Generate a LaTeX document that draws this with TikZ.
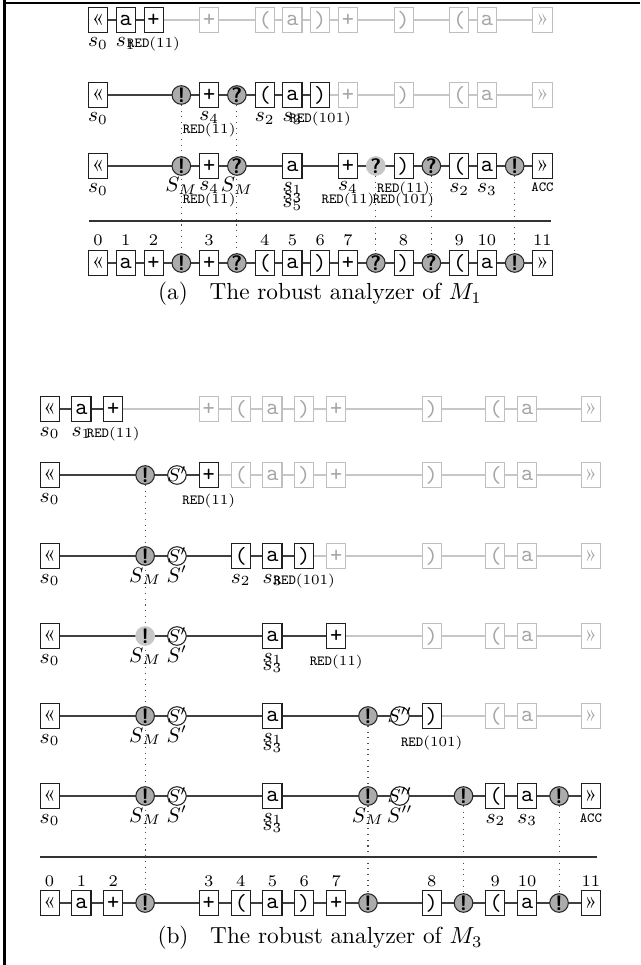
\documentclass[tikz,border=0pt]{standalone}
\usetikzlibrary{shapes.geometric,backgrounds}
\newcommand\Ta[5]{\node[#1] (#2) at ({98+27.78*#3},#4) {#5};}
\newcommand\Tb[5]{\node[#1] (#2) at ({49.6+31.84*#3},#4) {#5};}
\newcommand\La[5]{\node[#1,anchor=base] (#2) at ({98+27.78*#3},#4) {#5};}
\newcommand\Lb[5]{\node[#1,anchor=base] (#2) at ({49.6+31.84*#3},#4) {#5};}
\newcommand\Rd[1]{\texttt{RED}(#1)}
\newcommand\GL{{\rmfamily«}}
\newcommand\GR{{\rmfamily»}}
\newcommand\Cin[1]{\makebox[0pt]{\raisebox{-2.6pt}[0pt][0pt]{$#1$}}}
\begin{document}
\begin{tikzpicture}[x=0.43pt,y=-0.43pt,
  tok/.style={rectangle,draw=black!88,fill=white,line width=0.45pt,minimum width=8.2pt,minimum height=10.5pt,inner sep=0pt,font=\ttfamily},
  gtok/.style={tok,draw=black!25,text=black!35},
  err/.style={circle,draw=black!85,fill=black!33,line width=0.45pt,minimum size=8pt,inner sep=0pt,font=\sffamily\bfseries\small},
  lerr/.style={err,draw=black!22,fill=black!22},
  recv/.style={circle,draw=black!88,fill=white,line width=0.45pt,minimum size=8pt,inner sep=0pt,font=\footnotesize},
  lnk/.style={draw=black!75,line width=0.5pt},
  glnk/.style={draw=black!22,line width=0.5pt},
  dots/.style={draw=black!70,dotted,line width=0.45pt},
  sepl/.style={draw=black!80,line width=0.55pt},
  lab/.style={inner sep=0pt,font=\small},
  redl/.style={inner sep=0pt,font=\fontsize{6}{7}\selectfont},
  idx/.style={inner sep=0pt,font=\scriptsize},
  capt/.style={inner sep=0pt,font=\normalsize}]
\useasboundingbox (0,0) rectangle (640,965);
% frame
\coordinate (fTL) at (4.5,3); \coordinate (fTR) at (640,3); \coordinate (fBL) at (4.5,965); \coordinate (fT0) at (4.5,0);
\draw[line width=1.1pt] (fT0) -- (fBL);
\draw[line width=1.1pt] (fTL) -- (fTR);

% ===== panel (a) =====
% row 1
\Ta{tok}{a1n0}{0}{20}{\GL}
\Ta{tok}{a1n1}{1}{20}{a}
\Ta{tok}{a1n2}{2}{20}{+}
\Ta{gtok}{a1n4}{4}{20}{+}
\Ta{gtok}{a1n6}{6}{20}{(}
\Ta{gtok}{a1n7}{7}{20}{a}
\Ta{gtok}{a1n8}{8}{20}{)}
\Ta{gtok}{a1n9}{9}{20}{+}
\Ta{gtok}{a1n11}{11}{20}{)}
\Ta{gtok}{a1n13}{13}{20}{(}
\Ta{gtok}{a1n14}{14}{20}{a}
\Ta{gtok}{a1n16}{16}{20}{\GR}
\La{lab}{a1l0}{0}{47}{$s_0$}
\La{lab}{a1l1}{1}{47}{$s_1$}
\La{redl}{a1l2}{2}{48}{\Rd{11}}
% row 2
\Ta{tok}{a2n0}{0}{95}{\GL}
\Ta{err}{a2n3}{3}{95}{!}
\Ta{tok}{a2n4}{4}{95}{+}
\Ta{err}{a2n5}{5}{95}{?}
\Ta{tok}{a2n6}{6}{95}{(}
\Ta{tok}{a2n7}{7}{95}{a}
\Ta{tok}{a2n8}{8}{95}{)}
\Ta{gtok}{a2n9}{9}{95}{+}
\Ta{gtok}{a2n11}{11}{95}{)}
\Ta{gtok}{a2n13}{13}{95}{(}
\Ta{gtok}{a2n14}{14}{95}{a}
\Ta{gtok}{a2n16}{16}{95}{\GR}
\La{lab}{a2l0}{0}{122}{$s_0$}
\La{lab}{a2l4}{4}{121}{$s_4$}
\La{redl}{a2r4}{4}{134}{\Rd{11}}
\La{lab}{a2l6}{6}{122}{$s_2$}
\La{lab}{a2l7}{7}{122}{$s_3$}
\La{redl}{a2r8}{8}{123}{\Rd{101}}
% row 3
\Ta{tok}{a3n0}{0}{166}{\GL}
\Ta{err}{a3n3}{3}{166}{!}
\Ta{tok}{a3n4}{4}{166}{+}
\Ta{err}{a3n5}{5}{166}{?}
\Ta{tok}{a3n7}{7}{166}{a}
\Ta{tok}{a3n9}{9}{166}{+}
\Ta{lerr}{a3n10}{10}{166}{?}
\Ta{tok}{a3n11}{11}{166}{)}
\Ta{err}{a3n12}{12}{166}{?}
\Ta{tok}{a3n13}{13}{166}{(}
\Ta{tok}{a3n14}{14}{166}{a}
\Ta{err}{a3n15}{15}{166}{!}
\Ta{tok}{a3n16}{16}{166}{\GR}
\La{lab}{a3l0}{0}{193}{$s_0$}
\La{lab}{a3l3}{3}{192}{$S_M$}
\La{lab}{a3l4}{4}{191}{$s_4$}
\La{redl}{a3r4}{4}{204}{\Rd{11}}
\La{lab}{a3l5}{5}{192}{$S_M$}
\La{lab}{a3l7a}{7}{192}{$s_1$}
\La{lab}{a3l7b}{7}{200}{$s_3$}
\La{lab}{a3l7c}{7}{208}{$s_5$}
\La{lab}{a3l9}{9}{191}{$s_4$}
\La{redl}{a3r9}{9}{204}{\Rd{11}}
\La{redl}{a3r11a}{11}{193}{\Rd{11}}
\La{redl}{a3r11b}{11}{204}{\Rd{101}}
\La{lab}{a3l13}{13}{193}{$s_2$}
\La{lab}{a3l14}{14}{193}{$s_3$}
\La{redl}{a3l16}{16}{192}{\texttt{ACC}}
% separator
\coordinate (sAl) at (89,221); \coordinate (sAr) at (551,221);
\draw[sepl] (sAl) -- (sAr);
% bottom row
\Ta{tok}{a4n0}{0}{263}{\GL}
\Ta{tok}{a4n1}{1}{263}{a}
\Ta{tok}{a4n2}{2}{263}{+}
\Ta{err}{a4n3}{3}{263}{!}
\Ta{tok}{a4n4}{4}{263}{+}
\Ta{err}{a4n5}{5}{263}{?}
\Ta{tok}{a4n6}{6}{263}{(}
\Ta{tok}{a4n7}{7}{263}{a}
\Ta{tok}{a4n8}{8}{263}{)}
\Ta{tok}{a4n9}{9}{263}{+}
\Ta{err}{a4n10}{10}{263}{?}
\Ta{tok}{a4n11}{11}{263}{)}
\Ta{err}{a4n12}{12}{263}{?}
\Ta{tok}{a4n13}{13}{263}{(}
\Ta{tok}{a4n14}{14}{263}{a}
\Ta{err}{a4n15}{15}{263}{!}
\Ta{tok}{a4n16}{16}{263}{\GR}
\La{idx}{a4d0}{0}{246}{0}
\La{idx}{a4d1}{1}{246}{1}
\La{idx}{a4d2}{2}{246}{2}
\La{idx}{a4d4}{4}{246}{3}
\La{idx}{a4d6}{6}{246}{4}
\La{idx}{a4d7}{7}{246}{5}
\La{idx}{a4d8}{8}{246}{6}
\La{idx}{a4d9}{9}{246}{7}
\La{idx}{a4d11}{11}{246}{8}
\La{idx}{a4d13}{13}{246}{9}
\La{idx}{a4d14}{14}{246}{10}
\La{idx}{a4d16}{16}{246}{11}
\node[capt] (capA) at (320,294) {(a)\hspace{6pt} The robust analyzer of $M_1$};

% ===== panel (b) =====
% row 1
\Tb{tok}{b1n0}{0}{409}{\GL}
\Tb{tok}{b1n1}{1}{409}{a}
\Tb{tok}{b1n2}{2}{409}{+}
\Tb{gtok}{b1n5}{5}{409}{+}
\Tb{gtok}{b1n6}{6}{409}{(}
\Tb{gtok}{b1n7}{7}{409}{a}
\Tb{gtok}{b1n8}{8}{409}{)}
\Tb{gtok}{b1n9}{9}{409}{+}
\Tb{gtok}{b1n12}{12}{409}{)}
\Tb{gtok}{b1n14}{14}{409}{(}
\Tb{gtok}{b1n15}{15}{409}{a}
\Tb{gtok}{b1n17}{17}{409}{\GR}
\Lb{lab}{b1l0}{0}{436}{$s_0$}
\Lb{lab}{b1l1}{1}{436}{$s_1$}
\Lb{redl}{b1r2}{2}{437}{\Rd{11}}
% row 2
\Tb{tok}{b2n0}{0}{475}{\GL}
\Tb{err}{b2n3}{3}{475}{!}
\Tb{recv}{b2n4}{4}{475}{\Cin{S'}}
\Tb{tok}{b2n5}{5}{475}{+}
\Tb{gtok}{b2n6}{6}{475}{(}
\Tb{gtok}{b2n7}{7}{475}{a}
\Tb{gtok}{b2n8}{8}{475}{)}
\Tb{gtok}{b2n9}{9}{475}{+}
\Tb{gtok}{b2n12}{12}{475}{)}
\Tb{gtok}{b2n14}{14}{475}{(}
\Tb{gtok}{b2n15}{15}{475}{a}
\Tb{gtok}{b2n17}{17}{475}{\GR}
\Lb{lab}{b2l0}{0}{502}{$s_0$}
\Lb{redl}{b2r5}{5}{504}{\Rd{11}}
% row 3
\Tb{tok}{b3n0}{0}{556}{\GL}
\Tb{err}{b3n3}{3}{556}{!}
\Tb{recv}{b3n4}{4}{556}{\Cin{S'}}
\Tb{tok}{b3n6}{6}{556}{(}
\Tb{tok}{b3n7}{7}{556}{a}
\Tb{tok}{b3n8}{8}{556}{)}
\Tb{gtok}{b3n9}{9}{556}{+}
\Tb{gtok}{b3n12}{12}{556}{)}
\Tb{gtok}{b3n14}{14}{556}{(}
\Tb{gtok}{b3n15}{15}{556}{a}
\Tb{gtok}{b3n17}{17}{556}{\GR}
\Lb{lab}{b3l0}{0}{583}{$s_0$}
\Lb{lab}{b3l3}{3}{582}{$S_M$}
\Lb{lab}{b3l4}{4}{582}{$S'$}
\Lb{lab}{b3l6}{6}{583}{$s_2$}
\Lb{lab}{b3l7}{7}{583}{$s_3$}
\Lb{redl}{b3r8}{8}{584}{\Rd{101}}
% row 4
\Tb{tok}{b4n0}{0}{636}{\GL}
\Tb{lerr}{b4n3}{3}{636}{!}
\Tb{recv}{b4n4}{4}{636}{\Cin{S'}}
\Tb{tok}{b4n7}{7}{636}{a}
\Tb{tok}{b4n9}{9}{636}{+}
\Tb{gtok}{b4n12}{12}{636}{)}
\Tb{gtok}{b4n14}{14}{636}{(}
\Tb{gtok}{b4n15}{15}{636}{a}
\Tb{gtok}{b4n17}{17}{636}{\GR}
\Lb{lab}{b4l0}{0}{663}{$s_0$}
\Lb{lab}{b4l3}{3}{662}{$S_M$}
\Lb{lab}{b4l4}{4}{662}{$S'$}
\Lb{lab}{b4l7a}{7}{662}{$s_1$}
\Lb{lab}{b4l7b}{7}{670}{$s_3$}
\Lb{redl}{b4r9}{9}{665}{\Rd{11}}
% row 5
\Tb{tok}{b5n0}{0}{716}{\GL}
\Tb{err}{b5n3}{3}{716}{!}
\Tb{recv}{b5n4}{4}{716}{\Cin{S'}}
\Tb{tok}{b5n7}{7}{716}{a}
\Tb{err}{b5n10}{10}{716}{!}
\Tb{recv}{b5n11}{11}{716}{\Cin{S''}}
\Tb{tok}{b5n12}{12}{716}{)}
\Tb{gtok}{b5n14}{14}{716}{(}
\Tb{gtok}{b5n15}{15}{716}{a}
\Tb{gtok}{b5n17}{17}{716}{\GR}
\Lb{lab}{b5l0}{0}{743}{$s_0$}
\Lb{lab}{b5l3}{3}{742}{$S_M$}
\Lb{lab}{b5l4}{4}{742}{$S'$}
\Lb{lab}{b5l7a}{7}{742}{$s_1$}
\Lb{lab}{b5l7b}{7}{750}{$s_3$}
\Lb{redl}{b5r12}{12}{746}{\Rd{101}}
% row 6
\Tb{tok}{b6n0}{0}{796}{\GL}
\Tb{err}{b6n3}{3}{796}{!}
\Tb{recv}{b6n4}{4}{796}{\Cin{S'}}
\Tb{tok}{b6n7}{7}{796}{a}
\Tb{err}{b6n10}{10}{796}{!}
\Tb{recv}{b6n11}{11}{796}{\Cin{S''}}
\Tb{err}{b6n13}{13}{796}{!}
\Tb{tok}{b6n14}{14}{796}{(}
\Tb{tok}{b6n15}{15}{796}{a}
\Tb{err}{b6n16}{16}{796}{!}
\Tb{tok}{b6n17}{17}{796}{\GR}
\Lb{lab}{b6l0}{0}{823}{$s_0$}
\Lb{lab}{b6l3}{3}{822}{$S_M$}
\Lb{lab}{b6l4}{4}{822}{$S'$}
\Lb{lab}{b6l7a}{7}{822}{$s_1$}
\Lb{lab}{b6l7b}{7}{830}{$s_3$}
\Lb{lab}{b6l10}{10}{822}{$S_M$}
\Lb{lab}{b6l11}{11}{822}{$S''$}
\Lb{lab}{b6l14}{14}{823}{$s_2$}
\Lb{lab}{b6l15}{15}{823}{$s_3$}
\Lb{redl}{b6l17}{17}{822}{\texttt{ACC}}
% separator
\coordinate (sBl) at (40,857); \coordinate (sBr) at (597,857);
\draw[sepl] (sBl) -- (sBr);
% bottom row
\Tb{tok}{b7n0}{0}{903}{\GL}
\Tb{tok}{b7n1}{1}{903}{a}
\Tb{tok}{b7n2}{2}{903}{+}
\Tb{err}{b7n3}{3}{903}{!}
\Tb{tok}{b7n5}{5}{903}{+}
\Tb{tok}{b7n6}{6}{903}{(}
\Tb{tok}{b7n7}{7}{903}{a}
\Tb{tok}{b7n8}{8}{903}{)}
\Tb{tok}{b7n9}{9}{903}{+}
\Tb{err}{b7n10}{10}{903}{!}
\Tb{tok}{b7n12}{12}{903}{)}
\Tb{err}{b7n13}{13}{903}{!}
\Tb{tok}{b7n14}{14}{903}{(}
\Tb{tok}{b7n15}{15}{903}{a}
\Tb{err}{b7n16}{16}{903}{!}
\Tb{tok}{b7n17}{17}{903}{\GR}
\Lb{idx}{b7d0}{0}{886}{0}
\Lb{idx}{b7d1}{1}{886}{1}
\Lb{idx}{b7d2}{2}{886}{2}
\Lb{idx}{b7d5}{5}{886}{3}
\Lb{idx}{b7d6}{6}{886}{4}
\Lb{idx}{b7d7}{7}{886}{5}
\Lb{idx}{b7d8}{8}{886}{6}
\Lb{idx}{b7d9}{9}{886}{7}
\Lb{idx}{b7d12}{12}{886}{8}
\Lb{idx}{b7d14}{14}{886}{9}
\Lb{idx}{b7d15}{15}{886}{10}
\Lb{idx}{b7d17}{17}{886}{11}
\node[capt] (capB) at (320,938) {(b)\hspace{6pt} The robust analyzer of $M_3$};

% ===== connectors (behind) =====
\begin{scope}[on background layer]
\draw[lnk] (a1n0) -- (a1n2); \draw[glnk] (a1n2) -- (a1n16);
\draw[lnk] (a2n0) -- (a2n8); \draw[glnk] (a2n8) -- (a2n16);
\draw[lnk] (a3n0) -- (a3n16);
\draw[lnk] (a4n0) -- (a4n16);
\draw[dots] (a2n3) -- (a4n3);
\draw[dots] (a2n5) -- (a4n5);
\draw[dots] (a3n10) -- (a4n10);
\draw[dots] (a3n12) -- (a4n12);
\draw[dots] (a3n15) -- (a4n15);
\draw[lnk] (b1n0) -- (b1n2); \draw[glnk] (b1n2) -- (b1n17);
\draw[lnk] (b2n0) -- (b2n5); \draw[glnk] (b2n5) -- (b2n17);
\draw[lnk] (b3n0) -- (b3n8); \draw[glnk] (b3n8) -- (b3n17);
\draw[lnk] (b4n0) -- (b4n9); \draw[glnk] (b4n9) -- (b4n17);
\draw[lnk] (b5n0) -- (b5n12); \draw[glnk] (b5n12) -- (b5n17);
\draw[lnk] (b6n0) -- (b6n17);
\draw[lnk] (b7n0) -- (b7n17);
\draw[dots] (b2n3) -- (b7n3);
\draw[dots] (b5n10) -- (b7n10);
\draw[dots] (b6n13) -- (b7n13);
\draw[dots] (b6n16) -- (b7n16);
\end{scope}
\end{tikzpicture}
\end{document}
